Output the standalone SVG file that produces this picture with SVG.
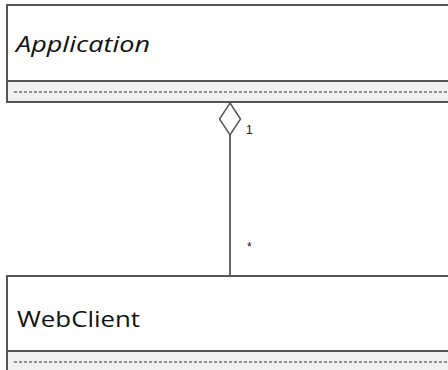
<svg xmlns="http://www.w3.org/2000/svg" width="448" height="370" viewBox="0 0 448 370">
  <style>
    .box { fill: #ffffff; stroke: #555555; stroke-width: 2; }
    .comp { fill: #f0f0f0; stroke: #555555; stroke-width: 2; }
    .sep { stroke: #333333; stroke-width: 1; stroke-dasharray: 3 2; fill: none; }
    .name { font-family: "Open Sans", "Liberation Sans", sans-serif; font-size: 22px; fill: #111111; }
    .mult { font-family: "Liberation Sans", sans-serif; font-size: 12px; fill: #111111; }
    .link { stroke: #666666; stroke-width: 2; fill: none; }
    .agg { fill: #ffffff; stroke: #555555; stroke-width: 1.5; }
  </style>

  <g id="connectors">
    <line class="link" x1="230" y1="135" x2="230" y2="276"/>
    <polygon class="agg" points="230,103 240.5,119 230,135 219.5,119"/>
    <text class="mult" x="246" y="134">1</text>
    <text class="mult" x="247" y="251" font-size="13px">*</text>
  </g>

  <g id="Application">
    <rect class="box" x="7" y="5" width="460" height="76"/>
    <rect class="comp" x="7" y="81" width="460" height="21"/>
    <line class="sep" x1="14" y1="92" x2="448" y2="92"/>
    <text class="name" x="16" y="52" font-style="italic" textLength="134" lengthAdjust="spacingAndGlyphs">Application</text>
  </g>

  <g id="WebClient">
    <rect class="box" x="7" y="276" width="460" height="75"/>
    <rect class="comp" x="7" y="351" width="460" height="30"/>
    <line class="sep" x1="14" y1="362" x2="448" y2="362"/>
    <text class="name" x="17" y="327" textLength="123" lengthAdjust="spacingAndGlyphs">WebClient</text>
  </g>
</svg>
